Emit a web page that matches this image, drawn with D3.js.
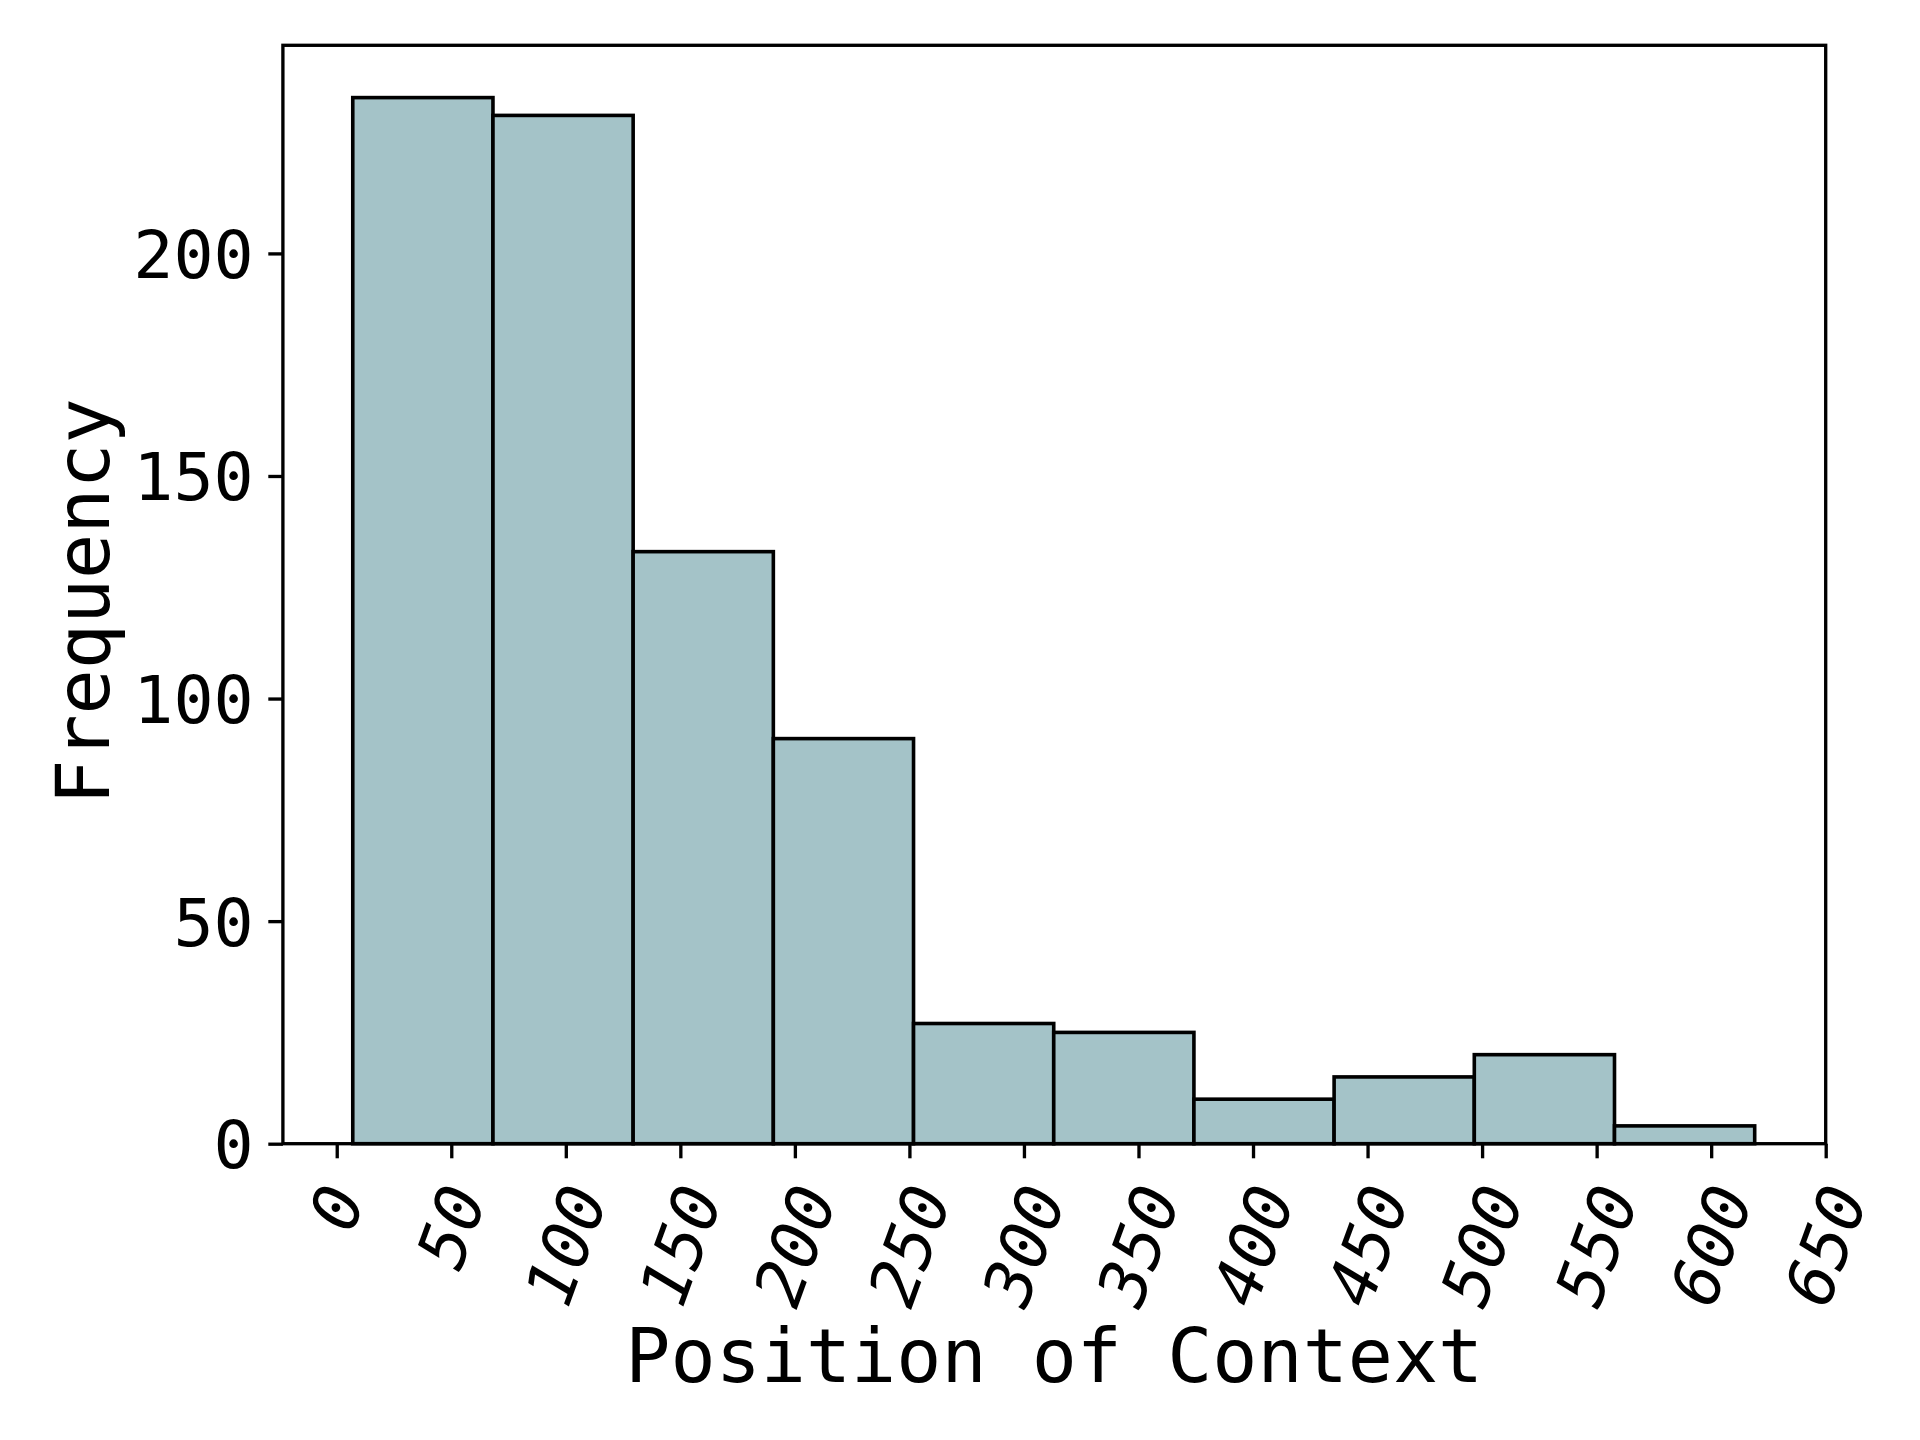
<!DOCTYPE html>
<html>
<head>
<meta charset="utf-8">
<script src="https://cdn.jsdelivr.net/npm/d3@7"></script>
<style>
body { margin: 0; background: #fff; }
svg text { font-family: "DejaVu Sans Mono", monospace; fill: #000; }
</style>
</head>
<body>
<svg id="chart" width="1920" height="1440"></svg>
<script>
// histogram bins
const binEdges = [7, 68.2, 129.4, 190.6, 251.8, 313, 374.2, 435.4, 496.6, 557.8, 619];
const counts = [235, 231, 133, 91, 27, 25, 10, 15, 20, 4];

const xTicks = [0, 50, 100, 150, 200, 250, 300, 350, 400, 450, 500, 550, 600, 650];
const yTicks = [0, 50, 100, 150, 200];

const xLabel = "Position of Context";
const yLabel = "Frequency";

var width = 1920,
    height = 1440;

const margin = {
    top: 45.3,
    right: 94.3,
    bottom: 296.3,
    left: 282.9
};

const plotW = width - margin.left - margin.right;
const plotH = height - margin.top - margin.bottom;

const tickLen = 14.6;     // 3.5pt at 300 dpi
const tickPad = 14.6;
const lineW = 3.33;       // 0.8pt
const fs = 66.7;          // 16pt tick labels
const labelFs = 75;       // 18pt axis labels

var svg = d3.select("svg#chart");

var x = d3.scaleLinear()
    .domain([-23.5, 650])
    .range([0, plotW]);

var y = d3.scaleLinear()
    .domain([0, d3.max(counts) * 1.05])
    .range([plotH, 0]);

var plot = svg.append("g")
    .attr("transform", translate(margin.left, margin.top));

// bars
var bins = counts.map(function(c, i) {
    return {x0: binEdges[i], x1: binEdges[i + 1], count: c};
});

plot.append("g").selectAll("rect.bar")
    .data(bins)
    .enter()
    .append("rect")
    .attr("class", "bar")
    .attr("x", d => x(d.x0))
    .attr("y", d => y(d.count))
    .attr("width", d => x(d.x1) - x(d.x0))
    .attr("height", d => y(0) - y(d.count))
    .attr("fill", "#a4c3c8")
    .attr("stroke", "#000")
    .attr("stroke-width", 3.6);

// frame (spines)
plot.append("rect")
    .attr("x", 0)
    .attr("y", 0)
    .attr("width", plotW)
    .attr("height", plotH)
    .attr("fill", "none")
    .attr("stroke", "#000")
    .attr("stroke-width", lineW);

// y axis
var yAxis = d3.axisLeft(y)
    .tickValues(yTicks)
    .tickSize(tickLen)
    .tickSizeOuter(0)
    .tickPadding(tickPad);

var yg = plot.append("g").call(yAxis);
yg.select(".domain").remove();
yg.selectAll(".tick line").attr("stroke", "#000").attr("stroke-width", lineW);
yg.selectAll(".tick text")
    .attr("font-family", "DejaVu Sans Mono")
    .attr("font-size", fs)
    .attr("fill", "#000")
    .attr("dy", "0.36em");

// x axis
var xAxis = d3.axisBottom(x)
    .tickValues(xTicks)
    .tickSize(tickLen)
    .tickSizeOuter(0);

var xg = plot.append("g")
    .attr("transform", translate(0, plotH))
    .call(xAxis);
xg.select(".domain").remove();
xg.selectAll(".tick line").attr("stroke", "#000").attr("stroke-width", lineW);

// rotated (70 deg) italic tick labels, bbox centered under the tick
const rot = 70 * Math.PI / 180;
xg.selectAll(".tick text")
    .each(function(d) {
        let t = String(d);
        let w = t.length * 0.602 * fs;
        let h = 1.164 * fs;
        let H = w * Math.sin(rot) + h * Math.cos(rot);
        let cy = tickLen + tickPad + H / 2 + 3;
        d3.select(this)
            .attr("y", null)
            .attr("x", null)
            .attr("dy", "0.346em")
            .attr("text-anchor", "middle")
            .attr("font-family", "DejaVu Sans Mono")
            .attr("font-style", "italic")
            .attr("font-size", fs)
            .attr("fill", "#000")
            .attr("transform", translate(0, cy) + " rotate(-70)");
    });

// axis titles
svg.append("text")
    .attr("x", margin.left + plotW / 2)
    .attr("y", 1382)
    .attr("text-anchor", "middle")
    .attr("font-size", labelFs)
    .text(xLabel);

svg.append("text")
    .attr("transform", translate(109, margin.top + plotH / 2 + 7) + " rotate(-90)")
    .attr("text-anchor", "middle")
    .attr("font-size", labelFs)
    .text(yLabel);

function translate(x, y) {
    return "translate(" + String(x) + "," + String(y) + ")";
}
</script>
</body>
</html>
